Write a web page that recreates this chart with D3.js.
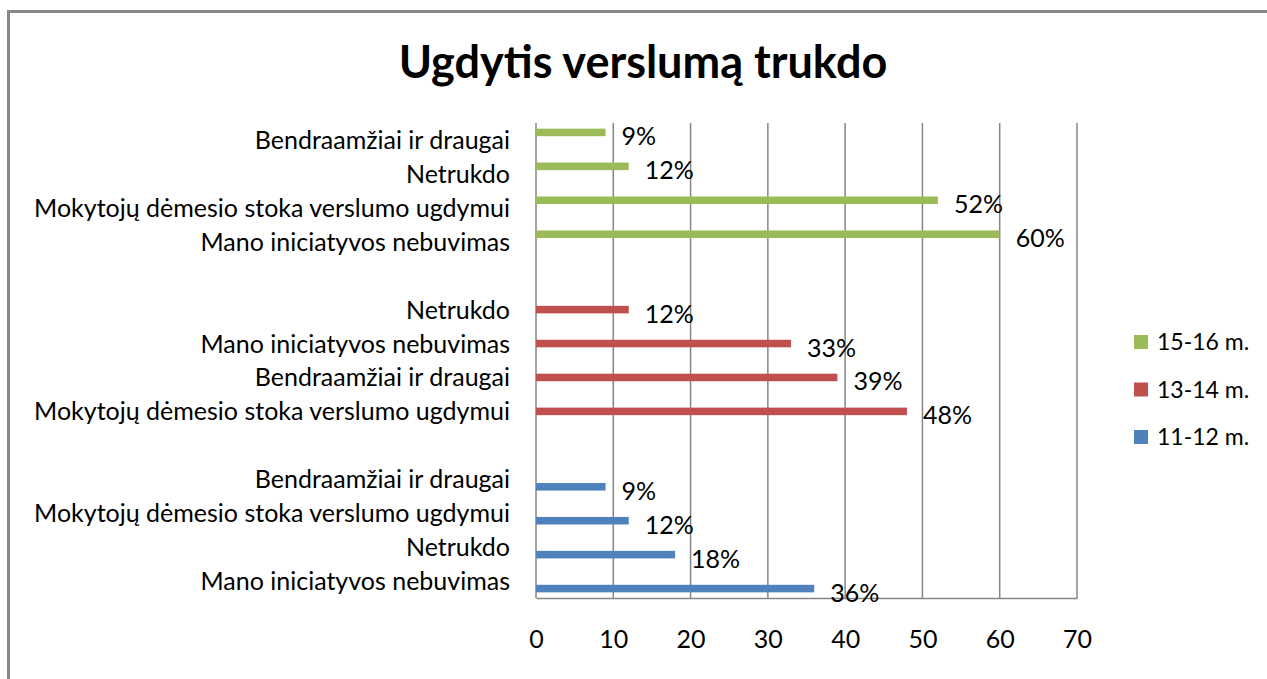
<!DOCTYPE html>
<html>
<head>
<meta charset="utf-8">
<script src="https://cdn.jsdelivr.net/npm/d3@7"></script>
<style>
  body { margin: 0; background: #fff; }
  text { font-family: Lato, "Open Sans", sans-serif; fill: #000; }
</style>
</head>
<body>
<script>
// category rows, top to bottom ("" = empty spacer row between groups)
const categories = [
    "Bendraamžiai ir draugai", "Netrukdo", "Mokytojų dėmesio stoka verslumo ugdymui", "Mano iniciatyvos nebuvimas",
    "",
    "Netrukdo", "Mano iniciatyvos nebuvimas", "Bendraamžiai ir draugai", "Mokytojų dėmesio stoka verslumo ugdymui",
    "",
    "Bendraamžiai ir draugai", "Mokytojų dėmesio stoka verslumo ugdymui", "Netrukdo", "Mano iniciatyvos nebuvimas"
];
const seriesNames = ["15-16 m.", "13-14 m.", "11-12 m."];
const values1516 = [9, 12, 52, 60, null, null, null, null, null, null, null, null, null, null];
const values1314 = [null, null, null, null, null, 12, 33, 39, 48, null, null, null, null, null];
const values1112 = [null, null, null, null, null, null, null, null, null, null, 9, 12, 18, 36];
const xTicks = [0, 10, 20, 30, 40, 50, 60, 70];
const title = "Ugdytis verslumą trukdo";

const seriesValues = [values1516, values1314, values1112];
const colors = d3.scaleOrdinal(seriesNames, ["#9bbb59", "#c0504d", "#4f81bd"]);

const width  = 1267;
const heigth = 679;
const plot = {left: 536, right: 1077, top: 123, bottom: 598};

const svg = d3.select("body")
    .append("svg")
    .attr("width", width)
    .attr("height", heigth);

// chart frame, runs off the right and bottom edges
svg.append("rect")
    .attr("x", 8.5).attr("y", 11.5)
    .attr("width", width + 20).attr("height", heigth + 20)
    .style("fill", "none")
    .style("stroke", "#888")
    .style("stroke-width", 3);

svg.append("text")
    .attr("x", 643).attr("y", 78)
    .attr("text-anchor", "middle")
    .style("font-size", "45px")
    .style("font-weight", "bold")
    .text(title);

const x = d3.scaleLinear().domain([0, 70]).range([plot.left, plot.right]);
const y = d3.scaleBand().domain(d3.range(categories.length)).range([plot.top, plot.bottom]);
const ySeries = d3.scaleBand().domain(seriesNames).range([0, y.bandwidth()])
    .paddingInner(0).paddingOuter(0.75);

// gridlines
svg.selectAll("line.grid")
      .data(xTicks)
    .enter().append("line")
      .attr("class", "grid")
      .attr("x1", d => x(d)).attr("x2", d => x(d))
      .attr("y1", plot.top).attr("y2", plot.bottom)
      .style("stroke", "#868686")
      .style("stroke-width", 1.5);

// value axis
const xAxis = svg.append("g")
    .attr("transform", `translate(0,${plot.bottom})`)
    .call(d3.axisBottom(x).tickValues(xTicks).tickSize(0).tickPadding(32));
xAxis.select(".domain").style("stroke", "#868686").style("stroke-width", 1.5);
xAxis.selectAll("text")
    .style("font-size", "25px")
    .style("font-family", "Lato, sans-serif")
    .attr("fill", "#000");

// category labels
svg.selectAll("text.cat")
      .data(categories)
    .enter().append("text")
      .attr("class", "cat")
      .attr("x", plot.left - 26)
      .attr("y", (d, i) => y(i) + y.bandwidth() / 2)
      .attr("dy", "0.36em")
      .attr("text-anchor", "end")
      .style("font-size", "25px")
      .text(d => d);

// bars
const bars = [];
seriesNames.forEach(function(s, si) {
    seriesValues[si].forEach(function(v, i) {
        if (v != null) bars.push({series: s, row: i, value: v});
    });
});

svg.selectAll("rect.bar")
      .data(bars)
    .enter().append("rect")
      .attr("class", "bar")
      .attr("x", x(0))
      .attr("y", d => y(d.row) + ySeries(d.series))
      .attr("width", d => x(d.value) - x(0))
      .attr("height", ySeries.bandwidth())
      .style("fill", d => colors(d.series));

// data labels
svg.selectAll("text.val")
      .data(bars)
    .enter().append("text")
      .attr("class", "val")
      .attr("x", d => x(d.value) + 16)
      .attr("y", d => y(d.row) + ySeries(d.series) + ySeries.bandwidth() / 2 + 4)
      .attr("dy", "0.36em")
      .style("font-size", "25px")
      .text(d => d.value + "%");

// legend
const legend = svg.selectAll("g.legend")
      .data(seriesNames)
    .enter().append("g")
      .attr("class", "legend")
      .attr("transform", (d, i) => `translate(1134,${342 + i * 47.5})`);
legend.append("rect")
    .attr("x", 0).attr("y", -7)
    .attr("width", 14).attr("height", 14)
    .style("fill", d => colors(d));
legend.append("text")
    .attr("x", 23).attr("y", 0)
    .attr("dy", "0.36em")
    .style("font-size", "23px")
    .text(d => d);
</script>
</body>
</html>
